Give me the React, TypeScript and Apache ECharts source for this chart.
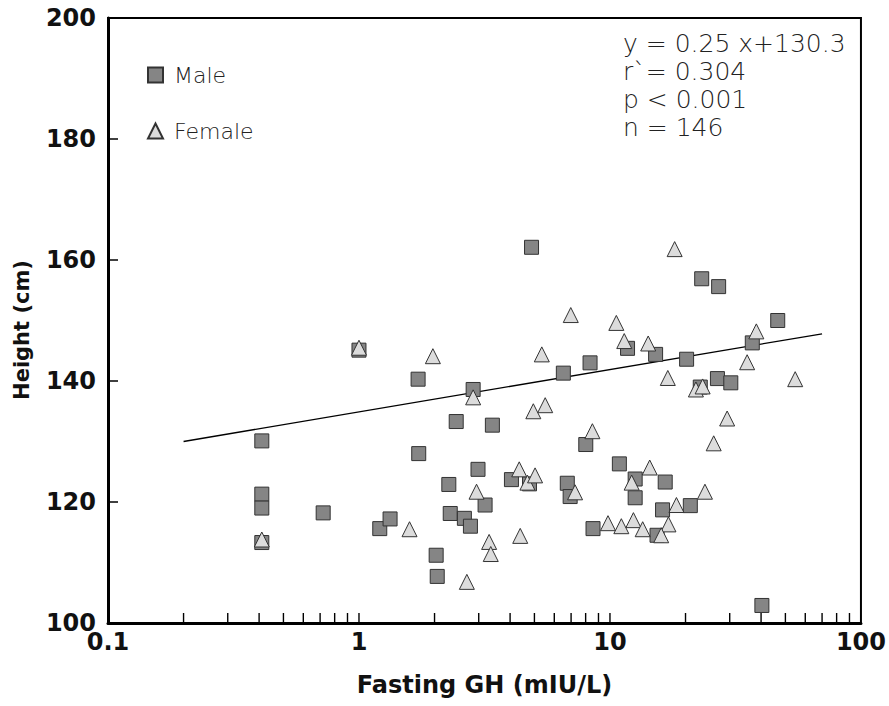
import React, { useEffect, useRef } from "react";
import * as echarts from "echarts";

// Fasting GH (mIU/L) and height (cm)
const maleGH = [0.41, 0.41, 0.41, 0.41, 1.0, 0.72, 1.21, 1.33, 4.87, 1.72, 2.85, 8.33, 6.52, 2.44, 3.4, 8.01, 1.73, 2.98, 2.28, 3.18, 2.31, 2.63, 2.78, 2.03, 2.05, 4.05, 4.78, 6.76, 6.94, 10.9, 8.56, 23.2, 27.1, 46.6, 36.9, 11.75, 15.2, 20.2, 26.8, 30.3, 22.9, 12.6, 12.6, 16.6, 20.9, 16.2, 15.4, 40.3];
const maleHeight = [130.1, 121.3, 119.0, 113.3, 145.1, 118.2, 115.6, 117.2, 162.1, 140.3, 138.6, 143.0, 141.3, 133.3, 132.7, 129.5, 128.0, 125.4, 122.9, 119.5, 118.1, 117.3, 116.0, 111.2, 107.7, 123.7, 123.0, 123.1, 120.9, 126.3, 115.6, 156.9, 155.6, 150.0, 146.3, 145.4, 144.4, 143.6, 140.4, 139.7, 139.0, 123.8, 120.7, 123.3, 119.4, 118.7, 114.5, 102.9];

const femaleGH = [0.41, 1.0, 6.98, 10.6, 11.4, 1.97, 2.85, 5.35, 4.95, 5.52, 8.51, 2.94, 1.59, 3.3, 3.35, 4.39, 2.69, 4.35, 4.69, 5.03, 7.26, 9.82, 11.1, 12.4, 18.1, 38.3, 14.2, 35.2, 17.0, 22.0, 23.4, 54.7, 29.3, 25.9, 14.4, 12.2, 23.9, 18.4, 17.1, 13.5, 16.0];
const femaleHeight = [113.8, 145.5, 150.9, 149.6, 146.6, 144.1, 137.3, 144.4, 135.0, 136.0, 131.7, 121.7, 115.5, 113.4, 111.4, 114.4, 106.8, 125.4, 123.2, 124.4, 121.6, 116.5, 116.0, 117.0, 161.8, 148.2, 146.2, 143.1, 140.5, 138.6, 139.1, 140.3, 133.8, 129.7, 125.7, 123.2, 121.7, 119.5, 116.3, 115.5, 114.5];

// regression line end points
const fitGH = [0.2, 70];
const fitHeight = [130.0, 147.8];

// minor tick marks on the log axis
const logTicks = [0.2, 0.3, 0.4, 0.5, 0.6, 0.7, 0.8, 0.9, 1, 2, 3, 4, 5, 6, 7, 8, 9, 10, 20, 30, 40, 50, 60, 70, 80, 90];

const statLines = ["y = 0.25 x+130.3", "r`= 0.304", "p < 0.001", "n = 146"];
const seriesNames = ["Male", "Female"];
const yTitle = "Height (cm)";
const xTitle = "Fasting GH (mIU/L)";

const boldFont = "DejaVu Sans";
const lightFont = "DejaVu Sans";

export default function App() {
  const ref = useRef<HTMLDivElement>(null);
  useEffect(() => {
    if (!ref.current) return;
    const chart = echarts.init(ref.current, null, { renderer: "svg" });
    const male = maleGH.map((x, i) => [x, maleHeight[i]]);
    const female = femaleGH.map((x, i) => [x, femaleHeight[i]]);
    const fit = fitGH.map((x, i) => [x, fitHeight[i]]);
    chart.setOption({
      animation: false,
      backgroundColor: "#fff",
      grid: {
        left: 108,
        right: 27,
        top: 18,
        bottom: 83,
        show: true,
        borderColor: "#000",
        borderWidth: 2,
        backgroundColor: "transparent",
      },
      legend: {
        data: seriesNames,
        orient: "vertical",
        left: 142,
        top: 59,
        itemWidth: 15,
        itemHeight: 15,
        itemGap: 34,
        textStyle: {
          fontFamily: lightFont,
          fontWeight: 200,
          fontSize: 22,
          color: "#222",
          padding: [0, 0, 0, 6],
        },
      },
      xAxis: {
        type: "log",
        logBase: 10,
        min: 0.1,
        max: 100,
        name: xTitle,
        nameLocation: "middle",
        nameGap: 50,
        nameTextStyle: { fontFamily: boldFont, fontWeight: "bold", fontSize: 24, color: "#111" },
        axisLine: { show: true, lineStyle: { color: "#000", width: 3 } },
        axisTick: { show: false },
        splitLine: { show: false },
        axisLabel: {
          margin: 7,
          fontFamily: boldFont,
          fontWeight: "bold",
          fontSize: 24,
          color: "#111",
          formatter: (v: number) => String(v),
        },
      },
      yAxis: {
        type: "value",
        min: 100,
        max: 200,
        interval: 20,
        axisLine: { show: true, lineStyle: { color: "#000", width: 3 } },
        axisTick: { show: true, inside: true, length: 10, lineStyle: { color: "#000", width: 1.5 } },
        splitLine: { show: false },
        axisLabel: {
          margin: 12,
          fontFamily: boldFont,
          fontWeight: "bold",
          fontSize: 24,
          color: "#111",
        },
      },
      graphic: [
        ...statLines.map((t, i) => ({
          type: "text",
          x: 623,
          y: 43 + i * 28,
          style: {
            text: t,
            fill: "#222",
            fontFamily: lightFont,
            fontWeight: 200,
            fontSize: 25,
            align: "left",
            verticalAlign: "middle",
          },
        })),
        {
          type: "text",
          x: 22,
          y: 330,
          rotation: Math.PI / 2,
          style: {
            text: yTitle,
            fill: "#111",
            fontFamily: boldFont,
            fontWeight: "bold",
            fontSize: 21,
            align: "center",
            verticalAlign: "middle",
          },
        },
      ],
      series: [
        {
          type: "custom",
          silent: true,
          data: logTicks.map((v) => [v, 100]),
          renderItem: (params: any, api: any) => {
            const p = api.coord([api.value(0), 100]);
            return {
              type: "line",
              shape: { x1: p[0], y1: p[1], x2: p[0], y2: p[1] - 10 },
              style: { stroke: "#000", lineWidth: 1.4 },
            };
          },
          z: 1,
        },
        {
          type: "line",
          data: fit,
          symbol: "none",
          silent: true,
          lineStyle: { color: "#000", width: 1.3 },
          z: 2,
        },
        {
          name: "Male",
          type: "scatter",
          data: male,
          symbol: "rect",
          symbolSize: 14,
          itemStyle: { color: "#858585", borderColor: "#333", borderWidth: 1, opacity: 1 },
          z: 3,
        },
        {
          name: "Female",
          type: "scatter",
          data: female,
          symbol: "triangle",
          symbolSize: [15, 15],
          itemStyle: { color: "#dcdcdc", borderColor: "#333", borderWidth: 1, opacity: 1 },
          z: 4,
        },
      ],
    });
    return () => chart.dispose();
  }, []);
  return (
    <div
      ref={ref}
      style={{ position: "absolute", left: 0, top: 0, width: 889, height: 706 }}
    />
  );
}
